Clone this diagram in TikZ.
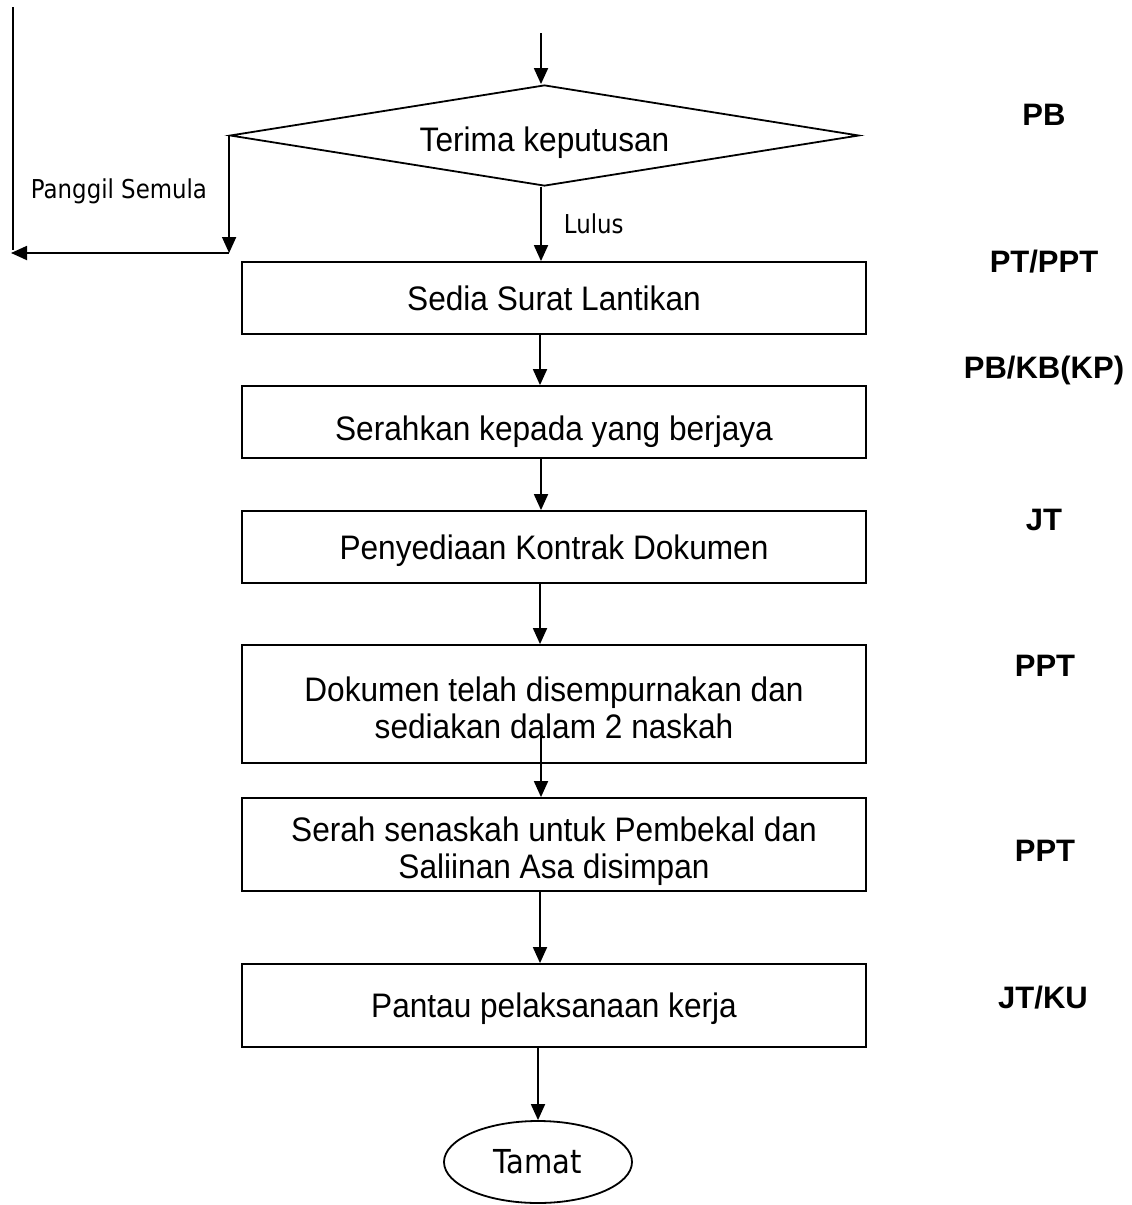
\documentclass[tikz,border=0pt]{standalone}
\usepackage{fontspec}
\setmainfont{Liberation Sans}
\newfontfamily\boxfont[FakeStretch=0.93]{Liberation Sans}
\newfontfamily\dvs{DejaVu Sans}
\usetikzlibrary{shapes.geometric,arrows.meta}
\newcommand{\tah}[2]{\scalebox{0.88}[1]{\fontsize{#1}{#1}\selectfont\dvs #2}}
\newcommand{\twolines}[3]{\raisebox{#1}[0pt][0pt]{\begin{tabular}[t]{@{}c@{}}#2\\#3\end{tabular}}}
\begin{document}
\begin{tikzpicture}[x=1pt,y=-1pt,
  line width=1.8pt,
  arr/.style={-{Triangle[length=16pt,width=14pt]}},
  procbox/.style={draw, minimum width=624pt, minimum height=#1, inner sep=0pt,
    align=center, font=\fontsize{34}{37}\selectfont\boxfont},
  onebox/.style={procbox=#1, text height=24pt, text depth=0pt},
  role/.style={inner sep=0pt, text height=22pt, text depth=0pt,
    font=\fontsize{31}{31}\selectfont\bfseries},
  lbl/.style={inner sep=0pt, anchor=base west},
]
\useasboundingbox (0,0) rectangle (1132,1205);

% decision
\node[draw, diamond, aspect=6.2, minimum width=629pt, minimum height=101pt,
  inner sep=0pt, text height=24pt, text depth=0pt,
  font=\fontsize{34}{37}\selectfont\boxfont] (dia) at (544.5,135.5)
  {\raisebox{-4pt}{Terima keputusan}};

% process boxes
\node[onebox=72pt] (b1) at (554,298) {Sedia Surat Lantikan};
\node[onebox=72pt] (b2) at (554,422) {\raisebox{-6pt}{Serahkan kepada yang berjaya}};
\node[onebox=72pt] (b3) at (554,547) {Penyediaan Kontrak Dokumen};
\node[procbox=118pt] (b4) at (554,704)
  {\twolines{3pt}{Dokumen telah disempurnakan dan}{sediakan dalam 2 naskah}};
\node[procbox=93pt] (b5) at (554,844.5)
  {\twolines{3.5pt}{Serah senaskah untuk Pembekal dan}{Saliinan Asa disimpan}};
\node[onebox=83pt] (b6) at (554,1005.5) {Pantau pelaksanaan kerja};

% terminator
\node[draw, ellipse, minimum width=188pt, minimum height=82pt, inner sep=0pt] (t) at (538,1162)
  {\tah{33}{Tamat}};

% helper coordinates
\coordinate (top) at (541,33);
\coordinate (ax) at (540,0);
\coordinate (s45) at (541,733);
\coordinate (c2) at (11,253);
\coordinate (c3) at (13,7);
\coordinate (c4) at (13,250);

% connectors
\draw[arr] (top) -- (top |- dia.north);
\draw[arr] (top |- dia.south) -- (top |- b1.north);
\draw[arr] (b1.south -| ax) -- (b2.north -| ax);
\draw[arr] (b2.south -| top) -- (b3.north -| top);
\draw[arr] (b3.south -| ax) -- (b4.north -| ax);
\draw[arr] (s45) -- (b5.north -| s45);
\draw[arr] (b5.south -| ax) -- (b6.north -| ax);
\draw[arr] (b6.south -| t.north) -- (t.north);

\draw[arr] (dia.west) -- (dia.west |- c2);
\draw[arr] (dia.west |- c2) -- (c2);
\draw (c3) -- (c4);

% labels
\node[lbl] (pg) at (30,198) {\tah{26}{Panggil Semula}};
\node[lbl] (lu) at (563,233) {\tah{26}{Lulus}};

% roles
\node[role] (r1) at (1044,114) {PB};
\node[role] (r2) at (1044,261) {PT/PPT};
\node[role] (r3) at (1044,367) {PB/KB(KP)};
\node[role] (r4) at (1044,519) {JT};
\node[role] (r5) at (1045,665) {PPT};
\node[role] (r6) at (1045,850) {PPT};
\node[role] (r7) at (1043,997) {JT/KU};
\end{tikzpicture}
\end{document}
